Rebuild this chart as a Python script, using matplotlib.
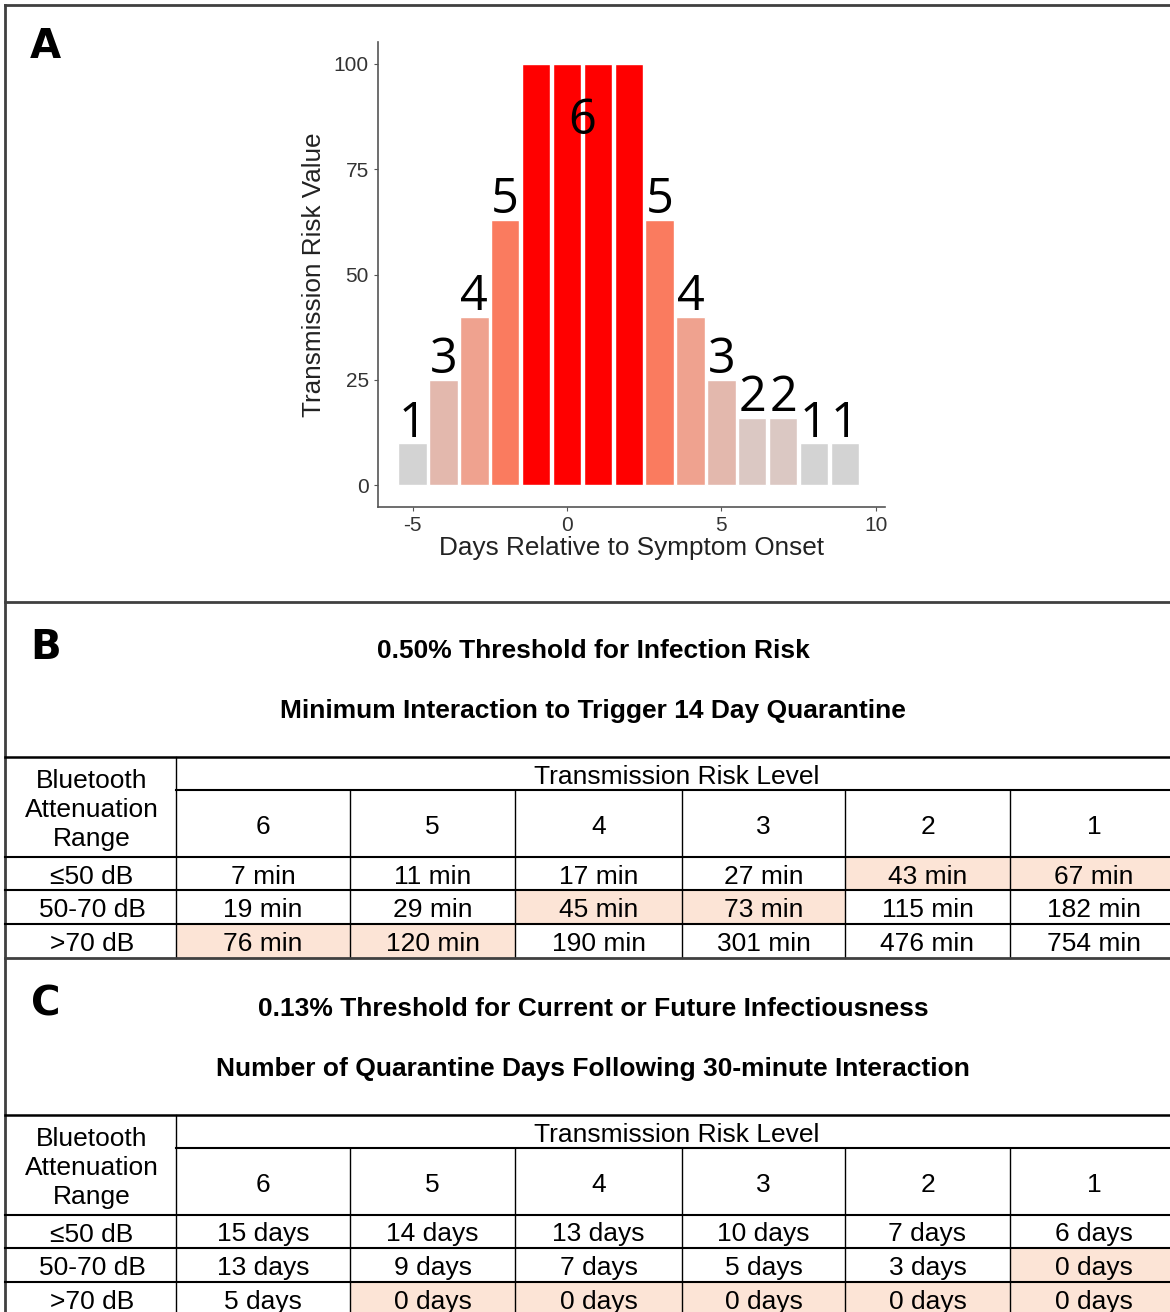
import matplotlib
matplotlib.use('Agg')
import matplotlib.pyplot as plt
from matplotlib.patches import Rectangle

plt.rcParams['axes.unicode_minus'] = False

# ---- data ----
days = [-5, -4, -3, -2, -1, 0, 1, 2, 3, 4, 5, 6, 7, 8, 9]
risk_value = [10, 25, 40, 63, 100, 100, 100, 100, 63, 40, 25, 16, 16, 10, 10]
risk_level = [1, 3, 4, 5, 6, 6, 6, 6, 5, 4, 3, 2, 2, 1, 1]
level_colors = {1: '#D3D3D3', 2: '#DBC8C3', 3: '#E3B8AD', 4: '#EFA28F',
                5: '#FA7B5F', 6: '#FF0000'}

level_cols = ['6', '5', '4', '3', '2', '1']
atten_rows = ['≤50 dB', '50-70 dB', '>70 dB']

minutes_b = [['7 min', '11 min', '17 min', '27 min', '43 min', '67 min'],
             ['19 min', '29 min', '45 min', '73 min', '115 min', '182 min'],
             ['76 min', '120 min', '190 min', '301 min', '476 min', '754 min']]
shade_b = [[0, 0, 0, 0, 1, 1],
           [0, 0, 1, 1, 0, 0],
           [1, 1, 0, 0, 0, 0]]

days_c = [['15 days', '14 days', '13 days', '10 days', '7 days', '6 days'],
          ['13 days', '9 days', '7 days', '5 days', '3 days', '0 days'],
          ['5 days', '0 days', '0 days', '0 days', '0 days', '0 days']]
shade_c = [[0, 0, 0, 0, 0, 0],
           [0, 0, 0, 0, 0, 1],
           [0, 1, 1, 1, 1, 1]]

titles_b = ['0.50% Threshold for Infection Risk',
            'Minimum Interaction to Trigger 14 Day Quarantine']
titles_c = ['0.13% Threshold for Current or Future Infectiousness',
            'Number of Quarantine Days Following 30-minute Interaction']

SHADE = '#FCE4D6'
FONT = 'Liberation Sans'

fig = plt.figure(figsize=(11.7, 13.12), dpi=100)

# page layer in pixel units
bg = fig.add_axes([0, 0, 1, 1])
bg.set_xlim(0, 1170)
bg.set_ylim(1312, 0)
bg.axis('off')

# panel borders
bg.plot([5, 5], [5, 1312], color='#404040', lw=2)
bg.plot([5, 1170], [5, 5], color='#404040', lw=2)
bg.plot([5, 1170], [602, 602], color='#404040', lw=2)

for letter, (lx, ly) in zip('ABC', [(30, 47), (30, 648), (31, 1004)]):
    bg.text(lx, ly, letter, fontsize=29, fontweight='bold', family='DejaVu Sans',
            ha='left', va='center')

col_edges = [5, 176, 350, 515, 682, 845, 1010, 1178]


def draw_table(top, titles, cells, shade):
    # titles above the table
    bg.text(593, top - 106, titles[0], fontsize=19, fontweight='bold', family=FONT,
            ha='center', va='center')
    bg.text(593, top - 46, titles[1], fontsize=19, fontweight='bold', family=FONT,
            ha='center', va='center')
    rows = [top, top + 33, top + 100, top + 133, top + 167, top + 201]
    # shaded cells
    for i in range(len(atten_rows)):
        for j in range(len(level_cols)):
            if shade[i][j]:
                bg.add_patch(Rectangle((col_edges[j + 1], rows[i + 2]),
                                       col_edges[j + 2] - col_edges[j + 1],
                                       rows[i + 3] - rows[i + 2],
                                       facecolor=SHADE, edgecolor='none'))
    # grid lines
    bg.plot([5, 1170], [rows[0], rows[0]], color='k', lw=1.8)
    bg.plot([176, 1170], [rows[1], rows[1]], color='k', lw=1.5)
    for y in rows[2:5]:
        bg.plot([5, 1170], [y, y], color='k', lw=1.5)
    bg.plot([176, 176], [rows[0], rows[5]], color='k', lw=1)
    for x in col_edges[2:7]:
        bg.plot([x, x], [rows[1], rows[5]], color='k', lw=1)
    # header text
    bg.text(92, top + 53, 'Bluetooth\nAttenuation\nRange',
            fontsize=19, family=FONT, ha='center', va='center', linespacing=1.25)
    bg.text(677, (rows[0] + rows[1]) / 2 + 3, 'Transmission Risk Level',
            fontsize=19, family=FONT, ha='center', va='center')
    for j, lab in enumerate(level_cols):
        cx = (col_edges[j + 1] + col_edges[j + 2]) / 2
        bg.text(cx, (rows[1] + rows[2]) / 2 + 3, lab, fontsize=19, family=FONT,
                ha='center', va='center')
    for i, rlab in enumerate(atten_rows):
        cy = (rows[i + 2] + rows[i + 3]) / 2 + 3
        bg.text(92, cy, rlab, fontsize=19, family=FONT, ha='center', va='center')
        for j in range(len(level_cols)):
            cx = (col_edges[j + 1] + col_edges[j + 2]) / 2
            bg.text(cx, cy, cells[i][j], fontsize=19, family=FONT,
                    ha='center', va='center')


draw_table(757, titles_b, minutes_b, shade_b)
bg.plot([5, 1170], [958, 958], color='#404040', lw=2)
draw_table(1115, titles_c, days_c, shade_c)

# ---- panel A bar chart ----
ax = fig.add_axes([378 / 1170, 1 - 507 / 1312, 507 / 1170, 465 / 1312])
ax.set_facecolor('none')
ax.bar(days, risk_value, width=0.92, color=[level_colors[l] for l in risk_level],
       edgecolor='white', linewidth=1)
for d, v, l in zip(days, risk_value, risk_level):
    if l != 6:
        ax.text(d, v + 1.5, str(l), fontsize=35, family='Open Sans',
                ha='center', va='baseline')
six = [d for d, l in zip(days, risk_level) if l == 6]
ax.text(sum(six) / len(six), 86.5, '6', fontsize=35, family='Open Sans',
        ha='center', va='center')

ax.set_xlim(-6.12, 10.3)
ax.set_ylim(-5.2, 105.2)
ax.set_xticks([-5, 0, 5, 10])
ax.set_yticks([0, 25, 50, 75, 100])
for s in ['top', 'right']:
    ax.spines[s].set_visible(False)
for s in ['left', 'bottom']:
    ax.spines[s].set_color('#555555')
    ax.spines[s].set_linewidth(1.2)
ax.tick_params(colors='#555555', length=3, labelsize=15, labelcolor='#333333')
for t in ax.get_xticklabels() + ax.get_yticklabels():
    t.set_family(FONT)
ax.set_xlabel('Days Relative to Symptom Onset', fontsize=18.8, family=FONT,
              labelpad=1, color='#222222')
ax.set_ylabel('Transmission Risk Value', fontsize=18.8, family=FONT,
              labelpad=6, color='#222222')

fig.savefig('out.png', dpi=100)
